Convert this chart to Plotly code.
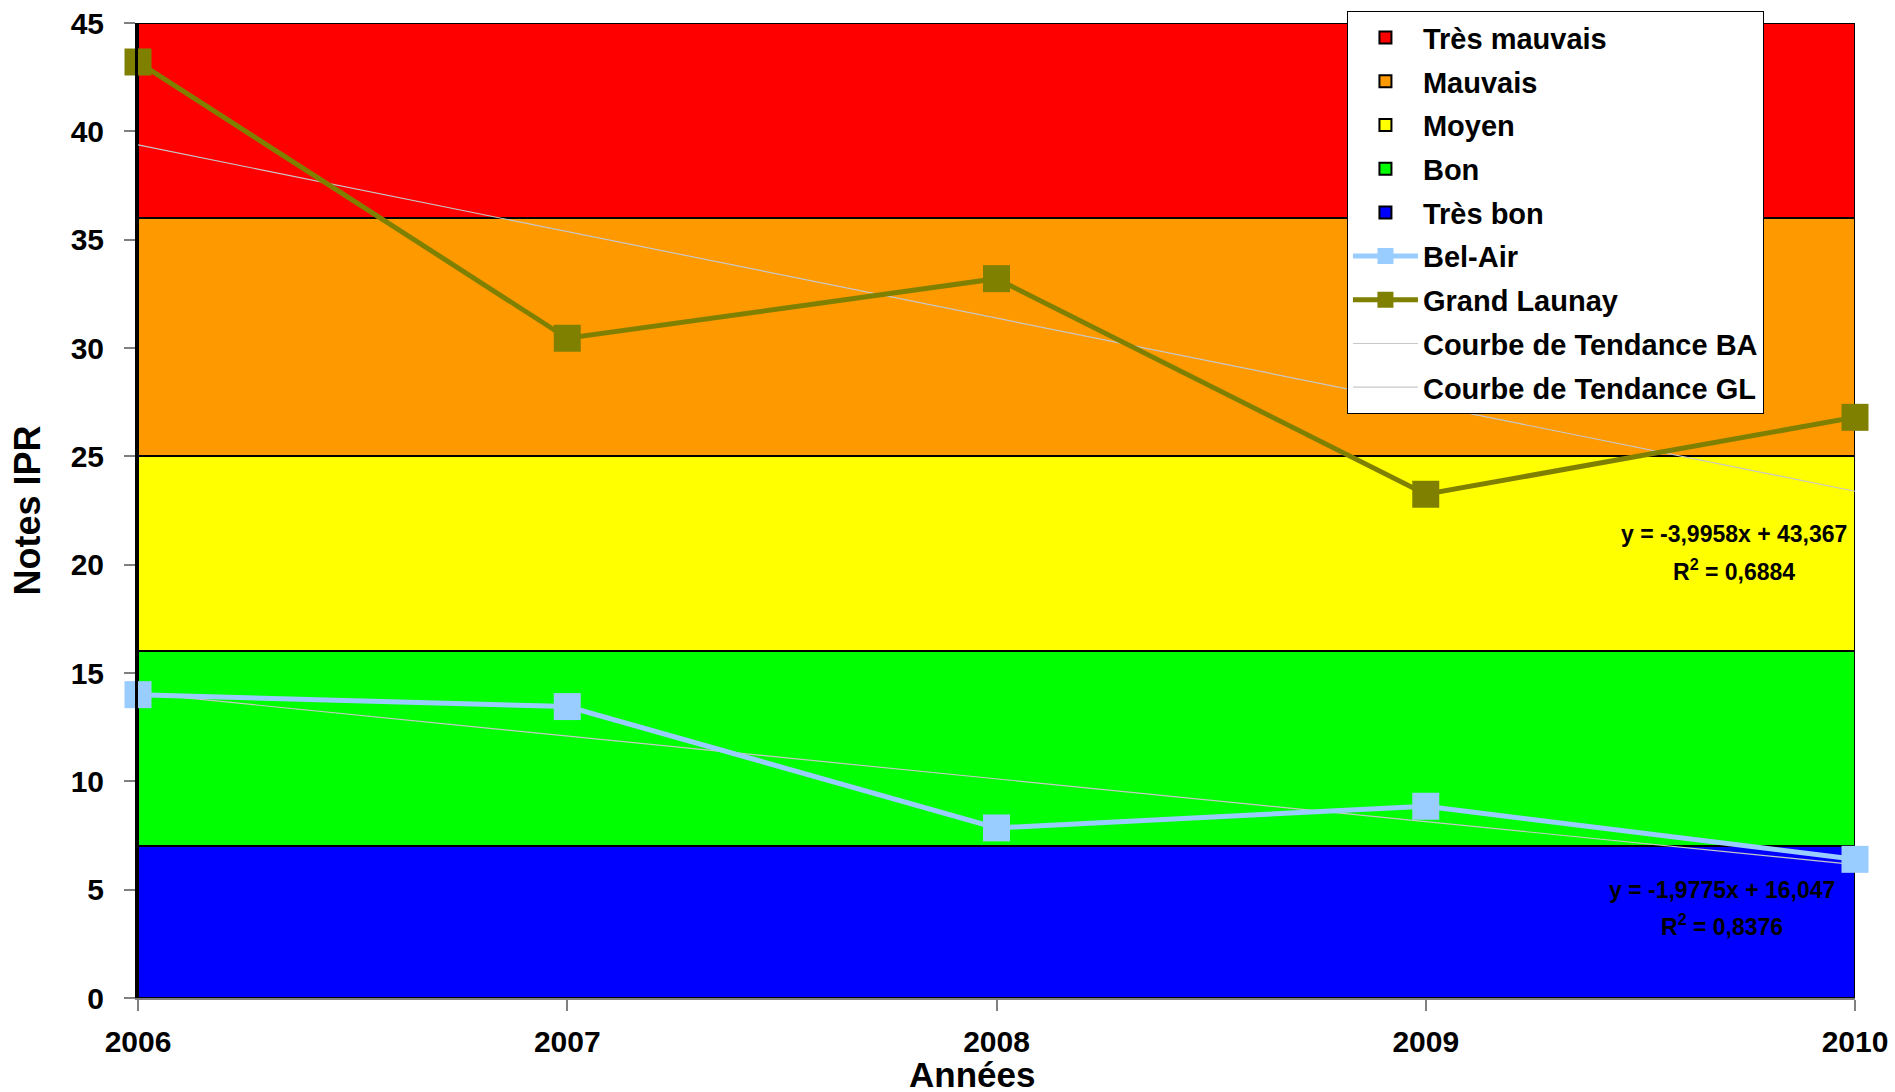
import plotly.graph_objects as go

# Years on the x axis
years = [2006, 2007, 2008, 2009, 2010]

# IPR scores per station
bel_air = [14.0, 13.45, 7.85, 8.85, 6.4]
grand_launay = [43.2, 30.45, 33.2, 23.25, 26.8]

# Linear trend coefficients (slope, intercept) with x = 1..5, and R²
trend_ba = (-1.9775, 16.047, 0.8376)
trend_gl = (-3.9958, 43.367, 0.6884)

# Quality classes: name, lower bound, upper bound, colour
class_names = ["Très mauvais", "Mauvais", "Moyen", "Bon", "Très bon"]
class_low = [36, 25, 16, 7, 0]
class_high = [45, 36, 25, 16, 7]
class_colors = ["#FF0000", "#FF9900", "#FFFF00", "#00FF00", "#0000FF"]

FONT = "Liberation Sans, Arial, sans-serif"

fig = go.Figure()

x_mid = (years[0] + years[-1]) / 2
x_span = years[-1] - years[0]

rank = 1
for name, lo, hi, col in zip(class_names, class_low, class_high, class_colors):
    fig.add_trace(go.Bar(
        x=[x_mid], y=[hi - lo], base=[lo], width=[x_span],
        name=name, legendgroup=name, legendrank=rank,
        marker=dict(color=col, line=dict(color="black", width=2)),
        hoverinfo="skip",
    ))
    rank += 1


def trend_values(coef):
    slope, intercept = coef[0], coef[1]
    return [slope * (i + 1) + intercept for i in range(len(years))]


fig.add_trace(go.Scatter(
    x=years, y=trend_values(trend_ba), mode="lines",
    name="Courbe de Tendance BA", legendgroup="tba", legendrank=8,
    line=dict(color="#C8C8C8", width=1.2), hoverinfo="skip",
))
fig.add_trace(go.Scatter(
    x=years, y=trend_values(trend_gl), mode="lines",
    name="Courbe de Tendance GL", legendgroup="tgl", legendrank=9,
    line=dict(color="#C8C8C8", width=1.2), hoverinfo="skip",
))

fig.add_trace(go.Scatter(
    x=years, y=bel_air, mode="lines+markers", name="Bel-Air",
    legendgroup="ba", legendrank=6, cliponaxis=False,
    line=dict(color="#99CCFF", width=5),
    marker=dict(symbol="square", size=27, color="#99CCFF"),
))
fig.add_trace(go.Scatter(
    x=years, y=grand_launay, mode="lines+markers", name="Grand Launay",
    legendgroup="gl", legendrank=7, cliponaxis=False,
    line=dict(color="#808000", width=5),
    marker=dict(symbol="square", size=27, color="#808000"),
))


def fmt(v, nd):
    return f"{v:.{nd}f}".replace(".", ",")


# Trend equations, one annotation per line
eq_labels = [
    (0.9295, 0.4754, f"y = {fmt(trend_gl[0], 4)}x + {fmt(trend_gl[1], 3)}"),
    (0.9295, 0.4385, f"R<sup>2</sup> = {fmt(trend_gl[2], 4)}"),
    (0.9225, 0.1104, f"y = {fmt(trend_ba[0], 4)}x + {fmt(trend_ba[1], 3)}"),
    (0.9225, 0.0745, f"R<sup>2</sup> = {fmt(trend_ba[2], 4)}"),
]
for ex, ey, txt in eq_labels:
    fig.add_annotation(
        xref="paper", yref="paper", x=ex, y=ey, text=txt,
        showarrow=False, align="center", xanchor="center", yanchor="middle",
        font=dict(family=FONT, size=23, color="black", weight="bold"),
    )

fig.add_annotation(
    xref="paper", yref="paper", x=0.4857, y=-0.078, text="Années",
    showarrow=False, xanchor="center", yanchor="middle",
    font=dict(family=FONT, size=35, color="black", weight="bold"),
)
fig.add_annotation(
    xref="paper", yref="paper", x=-0.0646, y=0.5, text="Notes IPR",
    textangle=-90, showarrow=False, xanchor="center", yanchor="middle",
    font=dict(family=FONT, size=36, color="black", weight="bold"),
)

fig.update_layout(
    width=1895, height=1092,
    margin=dict(l=138, r=40, t=22, b=94),
    paper_bgcolor="white", plot_bgcolor="white",
    barmode="overlay", bargap=0,
    font=dict(family=FONT, color="black"),
    showlegend=True,
    legend=dict(
        x=0.7041, y=1.011, xanchor="left", yanchor="top",
        bgcolor="white", bordercolor="black", borderwidth=1,
        font=dict(family=FONT, size=29, color="black", weight="bold"),
        itemwidth=65, tracegroupgap=3, traceorder="grouped",
    ),
)

fig.update_xaxes(
    range=[years[0], years[-1]], tickvals=years, ticktext=[str(y) for y in years],
    showgrid=False, zeroline=False, showline=True, linecolor="#808080", linewidth=2,
    ticks="outside", ticklen=11, tickcolor="#808080", tickwidth=1.5,
    ticklabelstandoff=5,
    tickfont=dict(family=FONT, size=30, color="black", weight="bold"),
    automargin=False,
)
fig.update_yaxes(
    range=[0, 45], tickvals=list(range(0, 50, 5)),
    showgrid=False, zeroline=False, showline=True, linecolor="black", linewidth=3,
    ticks="outside", ticklen=11, tickcolor="#808080", tickwidth=1.5,
    ticklabelstandoff=14,
    tickfont=dict(family=FONT, size=30, color="black", weight="bold"),
    automargin=False,
)

fig.write_html("out.html")
